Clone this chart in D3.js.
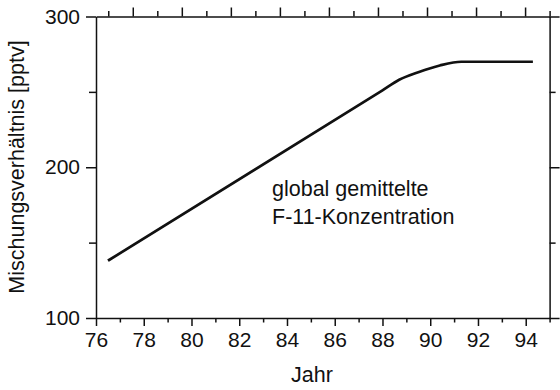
<!DOCTYPE html>
<html lang="de">
<head>
<meta charset="UTF-8">
<script src="https://d3js.org/d3.v7.min.js"></script>
<style>
  body { margin: 0; background: #fff; }
  svg text { font-family: "Liberation Sans", Arial, sans-serif; fill: #111; }
  .axis .domain, .axis .tick line { stroke: #111; stroke-width: 1.5; }
  .axis text { font-size: 21px; }
  .label { font-size: 21.5px; }
</style>
</head>
<body>
<svg width="560" height="390"></svg>
<script>
    // values
    var years  = [76.5, 88.0, 88.7, 89.5, 90.4, 91.3, 94.3];
    var values = [138, 251, 258, 263, 267.5, 270, 270];

    var xMajor = [76, 78, 80, 82, 84, 86, 88, 90, 92, 94],
        xMinor = [77, 79, 81, 83, 85, 87, 89, 91, 93, 95],
        topMajor = [78, 80, 82, 84, 86, 88, 90, 92, 94],
        yMajor = [100, 200, 300],
        yMinor = [150, 250];

    var svg = d3.select("svg"),
        plotLeft = 96, plotRight = 549.6, plotTop = 16.5, plotBottom = 318;

    var x = d3.scaleLinear().domain([76, 95]).range([plotLeft, plotRight]);
    // the top ticks in the original are spaced a little wider than the bottom ones
    var xTop = d3.scaleLinear().domain([76.5, 95]).range([plotLeft, plotRight]);
    var y = d3.scaleLinear().domain([100, 300]).range([plotBottom, plotTop]);

    function drawAxis(axisFn, scale, major, minor, bigSize, smallSize, labels, transform) {
        var g = svg.append("g").attr("class", "axis").attr("transform", transform);
        g.call(axisFn(scale).tickValues(major).tickSize(bigSize).tickSizeOuter(0)
            .tickPadding(6).tickFormat(labels ? d3.format("d") : ""));
        var g2 = svg.append("g").attr("class", "axis").attr("transform", transform);
        g2.call(axisFn(scale).tickValues(minor).tickSize(smallSize).tickSizeOuter(0).tickFormat(""));
        g2.select(".domain").remove();
        return g;
    }

    drawAxis(d3.axisBottom, x, xMajor, xMinor, 8, 4.5, true, "translate(0," + plotBottom + ")");
    drawAxis(d3.axisTop, xTop, topMajor, xMinor, 9, 5.5, false, "translate(0," + plotTop + ")");
    drawAxis(d3.axisLeft, y, yMajor, yMinor, 10, 7, true, "translate(" + plotLeft + ",0)");
    drawAxis(d3.axisRight, y, yMajor, yMinor, 10, 6, false, "translate(" + plotRight + ",0)");

    var line = d3.line()
        .x(function(d, i) { return x(years[i]); })
        .y(function(d) { return y(d); })
        .curve(d3.curveMonotoneX);

    svg.append("path")
        .datum(values)
        .attr("d", line)
        .attr("fill", "none")
        .attr("stroke", "#111")
        .attr("stroke-width", 2.7);

    svg.append("text").attr("class", "label")
        .attr("x", 272).attr("y", 196)
        .text("global gemittelte");
    svg.append("text").attr("class", "label")
        .attr("x", 272).attr("y", 224)
        .text("F-11-Konzentration");

    svg.append("text").attr("class", "label")
        .attr("x", 312).attr("y", 382)
        .attr("text-anchor", "middle")
        .text("Jahr");

    svg.append("text").attr("class", "label")
        .attr("transform", "translate(24,167) rotate(-90)")
        .attr("text-anchor", "middle")
        .text("Mischungsverhältnis [pptv]");
</script>
</body>
</html>
